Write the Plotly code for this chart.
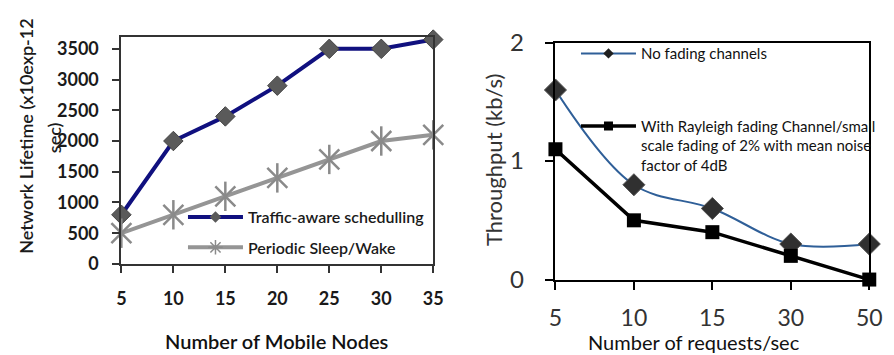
import plotly.graph_objects as go

W, H = 894, 355

# ---- Left chart data ----
nodes = [5, 10, 15, 20, 25, 30, 35]
traffic_aware = [800, 2000, 2400, 2900, 3500, 3500, 3650]
periodic_sleep = [500, 800, 1100, 1400, 1700, 2000, 2100]
left_yticks = [0, 500, 1000, 1500, 2000, 2500, 3000, 3500]

# ---- Right chart data ----
requests = ["5", "10", "15", "30", "50"]
no_fading = [1.6, 0.8, 0.6, 0.3, 0.3]
rayleigh = [1.1, 0.5, 0.4, 0.2, 0.0]
right_yticks = [0, 1, 2]

NAMES = ["Traffic-aware schedulling", "Periodic Sleep/Wake", "No fading channels",
         "With Rayleigh fading Channel/small<br>scale fading of 2% with mean noise<br>factor of 4dB"]

FONT = "Lato"
LW = 700  # heavier weight used by the left chart's text

def px_x(p):
    return p / W

def px_y(p):
    return 1 - p / H

fig = go.Figure()

styles = [
    dict(line=dict(color="#10107f", width=4),
         marker=dict(symbol="diamond", size=15, color="#5a5a5a", line=dict(color="#444444", width=1)),
         lm=dict(symbol="diamond", size=9, color="#5a5a5a")),
    dict(line=dict(color="#959595", width=4),
         marker=dict(symbol="x-thin-open", size=20, color="#8a8a8a", line=dict(color="#8a8a8a", width=2.5)),
         lm=dict(symbol="asterisk-open", size=12, color="#8a8a8a", line=dict(color="#8a8a8a", width=1.5))),
    dict(line=dict(color="#2f5f98", width=2, shape="spline", smoothing=1),
         marker=dict(symbol="diamond", size=17, color="#303030", line=dict(color="#555555", width=1)),
         lm=dict(symbol="diamond", size=8, color="#202020")),
    dict(line=dict(color="#000000", width=3.5),
         marker=dict(symbol="square", size=14, color="#000000"),
         lm=dict(symbol="square", size=9, color="#000000")),
]
data = [(nodes, traffic_aware, "x", "y"), (nodes, periodic_sleep, "x", "y"),
        (requests, no_fading, "x2", "y2"), (requests, rayleigh, "x2", "y2")]
legends = ["legend", "legend2", "legend3", "legend4"]

for i, ((xs, ys, xa, ya), st, name, lg) in enumerate(zip(data, styles, NAMES, legends)):
    fig.add_trace(go.Scatter(x=xs, y=ys, mode="lines+markers", name=name, line=st["line"],
                             marker=st["marker"], cliponaxis=False, xaxis=xa, yaxis=ya,
                             showlegend=False))
    if i == 1:
        # vertical stroke of the star marker (X + vertical bar)
        fig.add_trace(go.Scatter(x=xs, y=ys, mode="markers", name=name,
                                 marker=dict(symbol="line-ns-open", size=21, color="#8a8a8a",
                                             line=dict(color="#8a8a8a", width=2.5)),
                                 cliponaxis=False, xaxis=xa, yaxis=ya, showlegend=False))
    # legend entry (small marker as in the reference legend)
    fig.add_trace(go.Scatter(x=[None], y=[None], mode="lines+markers", name=name,
                             line=dict(color=st["line"]["color"], width=st["line"]["width"]),
                             marker=st["lm"], xaxis=xa, yaxis=ya, legend=lg, showlegend=True))

axis_common = dict(showline=True, mirror=True, showgrid=False, zeroline=False, ticks="outside")

fig.update_layout(
    width=W, height=H, margin=dict(l=0, r=0, t=0, b=0),
    paper_bgcolor="white", plot_bgcolor="white",
    font=dict(family=FONT, color="#111111"),
    xaxis=dict(domain=[px_x(117), px_x(436)], range=[5, 35], tickvals=nodes,
               linecolor="#333333", linewidth=2, ticklen=7, tickwidth=2, tickcolor="#333333",
               tickfont=dict(size=18, color="#1a1a1a", weight=LW), ticklabelstandoff=10, anchor="y", **axis_common),
    yaxis=dict(domain=[px_y(270), px_y(23)], range=[0, 3690], tickvals=left_yticks,
               linecolor="#333333", linewidth=2, ticklen=7, tickwidth=2, tickcolor="#333333",
               tickfont=dict(size=18, color="#1a1a1a", weight=LW), ticklabelstandoff=10, anchor="x", **axis_common),
    xaxis2=dict(domain=[px_x(561), px_x(882)], type="category", range=[0, 4],
                linecolor="#000000", linewidth=1.5, ticklen=9, tickwidth=1.5, tickcolor="#000000",
                tickfont=dict(size=23, color="#333333"), ticklabelstandoff=8, anchor="y2", **axis_common),
    yaxis2=dict(domain=[px_y(287), px_y(29)], range=[0, 2], tickvals=right_yticks,
                linecolor="#000000", linewidth=1.5, ticklen=9, tickwidth=1.5, tickcolor="#000000",
                tickfont=dict(size=24, color="#333333"), ticklabelstandoff=16, anchor="x2", **axis_common),
    legend=dict(x=px_x(180), y=px_y(219), xanchor="left", yanchor="middle", bgcolor="rgba(0,0,0,0)",
                font=dict(size=16, color="#1a1a1a", weight=600), itemwidth=55),
    legend2=dict(x=px_x(180), y=px_y(252), xanchor="left", yanchor="middle", bgcolor="rgba(0,0,0,0)",
                 font=dict(size=16, color="#1a1a1a", weight=600), itemwidth=55),
    legend3=dict(x=px_x(582), y=px_y(41), xanchor="left", yanchor="middle", bgcolor="rgba(0,0,0,0)",
                 font=dict(size=15, color="#111111"), itemwidth=55),
    legend4=dict(x=px_x(582), y=px_y(102), xanchor="left", yanchor="top", bgcolor="rgba(0,0,0,0)",
                 font=dict(size=15, color="#111111"), itemwidth=55, valign="top"),
    showlegend=True,
)

annotations = [
    dict(text="Network Lifetime (x10exp-12", x=px_x(20), y=px_y(131), textangle=-90,
         font=dict(size=18, color="#1a1a1a", weight=600)),
    dict(text="sec)", x=px_x(48), y=px_y(132), textangle=-90,
         font=dict(size=18, color="#1a1a1a", weight=600)),
    dict(text="Number of Mobile Nodes", x=px_x(276), y=px_y(354),
         font=dict(size=20, color="#111111", weight=600)),
    dict(text="Throughput (kb/s)", x=px_x(497), y=px_y(157), textangle=-90,
         font=dict(size=22, color="#333333")),
    dict(text="Number of requests/sec", x=px_x(703), y=px_y(355),
         font=dict(size=20, color="#111111")),
]
for a in annotations:
    a.update(xref="paper", yref="paper", showarrow=False, xanchor="center", yanchor="middle")
fig.update_layout(annotations=annotations)

fig.write_html("out.html")
